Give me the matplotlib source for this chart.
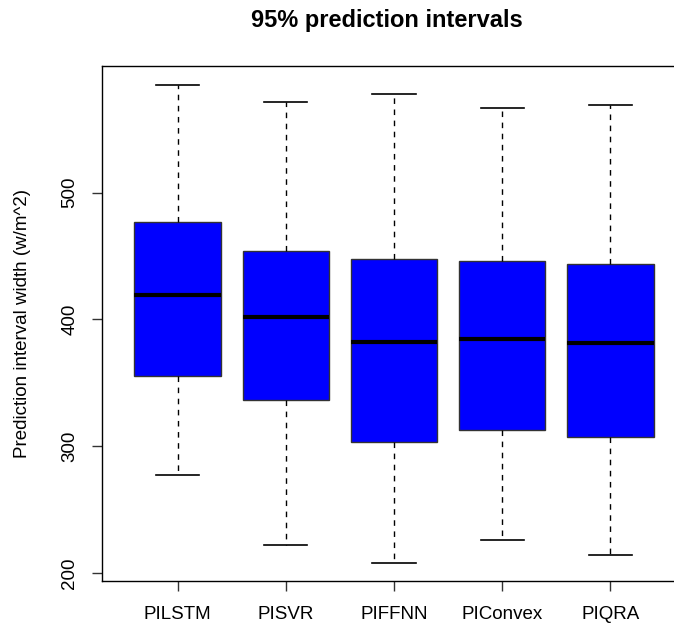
import matplotlib
matplotlib.use("Agg")
import matplotlib.pyplot as plt

plt.rcParams['font.family'] = ['Liberation Sans', 'DejaVu Sans']

# data
labels = ["PILSTM", "PISVR", "PIFFNN", "PIConvex", "PIQRA"]
whislo = [277, 222, 208, 226, 214]
q1 = [355.5, 336.5, 303, 313, 307]
med = [419, 401.5, 382, 384.5, 381]
q3 = [476.5, 454, 447.5, 446, 444]
whishi = [585, 571.5, 578, 566.5, 569.5]

stats = []
for i in range(len(labels)):
    stats.append(dict(label=labels[i], whislo=whislo[i], q1=q1[i], med=med[i],
                      q3=q3[i], whishi=whishi[i], fliers=[]))

fig = plt.figure(figsize=(6.74, 6.26), dpi=100)
ax = fig.add_axes([102 / 674, 1 - 581 / 626, 584 / 674, 515 / 626])

ax.bxp(stats, positions=range(1, 6), widths=0.8, patch_artist=True,
       boxprops=dict(facecolor="#0000ff", edgecolor="#333333", linewidth=1),
       medianprops=dict(color="black", linewidth=3, solid_capstyle="butt"),
       whiskerprops=dict(color="black", linewidth=1, linestyle=(0, (4, 4))),
       capprops=dict(color="black", linewidth=1.2), capwidths=0.4)

ax.set_xlim(0.3, 5.7)
ax.set_ylim(193.5, 600)
ax.set_yticks([200, 300, 400, 500])
ax.set_yticklabels(["200", "300", "400", "500"], rotation=90, va="center")
ax.tick_params(axis="both", length=7, width=1, labelsize=13.5, color="#333333")
ax.tick_params(axis="x", pad=11)
ax.tick_params(axis="y", pad=10)
ax.set_ylabel("Prediction interval width (w/m^2)", fontsize=13.5)
ax.yaxis.set_label_coords(-(102 - 31) / 584, 0.5)
for s in ax.spines.values():
    s.set_linewidth(1)
    s.set_color("black")

fig.text(387 / 674, 1 - 20 / 626, "95% prediction intervals", ha="center", va="center",
         fontsize=17, fontweight="bold")

fig.savefig("out.png", dpi=100)
